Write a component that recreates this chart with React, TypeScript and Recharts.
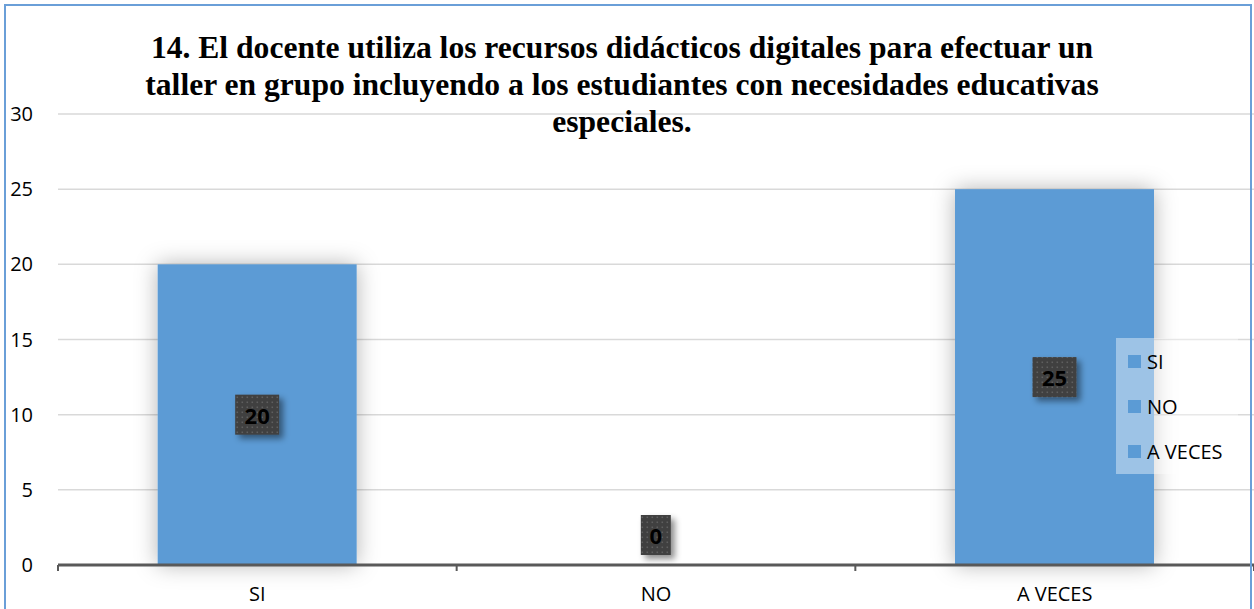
import React from "react";
import { BarChart, Bar, XAxis, YAxis, CartesianGrid, LabelList, Legend } from "recharts";

const categories = ["SI", "NO", "A VECES"];
const responses = [20, 0, 25];
const yTicks = [0, 5, 10, 15, 20, 25, 30];
const titleLines = [
  "14. El docente utiliza los recursos didácticos digitales para efectuar un",
  "taller en grupo incluyendo a los estudiantes con necesidades educativas",
  "especiales.",
];

const data = categories.map((name, i) => ({ name, value: responses[i] }));

const BLUE = "#5b9bd5";
const AXIS = "#595959";
const FONT = "'Open Sans', 'Noto Sans', sans-serif";

// bar with the soft grey glow Excel puts around it
const GlowBar = (props: any) => {
  const { x, y, width, height, fill } = props;
  if (!height) return <g />;
  return <rect x={x} y={y} width={width} height={height} fill={fill} filter="url(#barGlow)" />;
};

// dark dotted data label box with drop shadow
const ValueBadge = (props: any) => {
  const vb = props.viewBox || props;
  const { x, y, width, height } = vb;
  const text = String(props.value);
  const w = 16 + 14 * text.length;
  const h = 40;
  const cx = x + width / 2;
  const bottom = y + height;
  let cy = y + height / 2;
  if (cy + h / 2 > bottom - 10) cy = bottom - 10 - h / 2;
  return (
    <g>
      <rect x={cx - w / 2} y={cy - h / 2} width={w} height={h} fill="url(#dots)" filter="url(#badgeShadow)" />
      <text
        x={cx}
        y={cy}
        textAnchor="middle"
        dominantBaseline="central"
        fontFamily={FONT}
        fontWeight={700}
        fontSize={22}
        fill="#000"
      >
        {text}
      </text>
    </g>
  );
};

const CategoryTick = (props: any) => {
  const { x, y, payload, index } = props;
  const half = payload.offset || 0;
  const axisY = y - 22;
  const last = index === categories.length - 1;
  return (
    <g>
      <line x1={x - half} x2={x - half} y1={axisY} y2={axisY + 6} stroke={AXIS} strokeWidth={2} />
      {last && <line x1={x + half} x2={x + half} y1={axisY} y2={axisY + 6} stroke={AXIS} strokeWidth={2} />}
      <text x={x} y={y} dy="0.71em" textAnchor="middle" fontFamily={FONT} fontSize={20} fill="#000">
        {payload.value}
      </text>
    </g>
  );
};

const LegendBox = () => (
  <div style={{ width: 122, height: 135, background: "rgba(255,255,255,0.4)", paddingTop: 1 }}>
    {categories.map((c) => (
      <div key={c} style={{ height: 45, display: "flex", alignItems: "center", fontFamily: FONT, fontSize: 20, color: "#000" }}>
        <span style={{ display: "inline-block", width: 13, height: 13, background: BLUE, marginLeft: 12, marginRight: 6 }} />
        {c}
      </div>
    ))}
  </div>
);

export default function App() {
  return (
    <div style={{ position: "absolute", left: 0, top: 0, width: 1254, height: 609, overflow: "hidden", background: "#fff" }}>
      <BarChart
        width={1254}
        height={609}
        data={data}
        margin={{ top: 114, right: 0, left: 0, bottom: 0 }}
        barCategoryGap="25%"
      >
        <defs>
          <pattern id="dots" width="5" height="5" patternUnits="userSpaceOnUse">
            <rect width="5" height="5" fill="#3f3f3f" />
            <rect x="1.5" y="1.5" width="1.6" height="1.6" fill="#5e5e5e" />
          </pattern>
          <filter id="barGlow" x="-40%" y="-40%" width="180%" height="180%">
            <feGaussianBlur in="SourceAlpha" stdDeviation="11" result="blur" />
            <feFlood floodColor="#000" floodOpacity="0.3" result="tint" />
            <feComposite in="tint" in2="blur" operator="in" result="glow" />
            <feMerge>
              <feMergeNode in="glow" />
              <feMergeNode in="SourceGraphic" />
            </feMerge>
          </filter>
          <filter id="badgeShadow" x="-40%" y="-40%" width="180%" height="180%">
            <feDropShadow dx="4" dy="4" stdDeviation="3" floodColor="#000" floodOpacity="0.45" />
          </filter>
        </defs>
        <CartesianGrid vertical={false} stroke="#d9d9d9" strokeWidth={1.5} />
        <XAxis
          dataKey="name"
          height={44}
          tickSize={0}
          tickMargin={22}
          tickLine={false}
          axisLine={{ stroke: AXIS, strokeWidth: 3 }}
          tick={<CategoryTick />}
          interval={0}
        />
        <YAxis
          width={58}
          domain={[0, 30]}
          ticks={yTicks}
          tickSize={0}
          tickMargin={25}
          axisLine={false}
          tickLine={false}
          tick={{ fill: "#000", fontSize: 20, fontFamily: FONT }}
        />
        <Legend
          layout="horizontal"
          verticalAlign="middle"
          wrapperStyle={{ position: "absolute", left: 1116, top: 338, width: 122, height: 135 }}
          content={() => <LegendBox />}
        />
        <Bar dataKey="value" fill={BLUE} shape={<GlowBar />} isAnimationActive={false}>
          <LabelList dataKey="value" content={<ValueBadge />} />
        </Bar>
      </BarChart>
      <div
        style={{
          position: "absolute",
          left: 10,
          top: 29,
          width: 1224,
          textAlign: "center",
          fontFamily: "'Liberation Serif', 'Times New Roman', serif",
          fontWeight: 700,
          fontSize: 31.6,
          lineHeight: "37px",
          color: "#000",
          pointerEvents: "none",
        }}
      >
        {titleLines.map((l) => (
          <div key={l}>{l}</div>
        ))}
      </div>
      <div
        style={{
          position: "absolute",
          left: 4,
          top: 4,
          width: 1244,
          height: 640,
          border: "2px solid #6a9fd8",
          pointerEvents: "none",
        }}
      />
    </div>
  );
}
